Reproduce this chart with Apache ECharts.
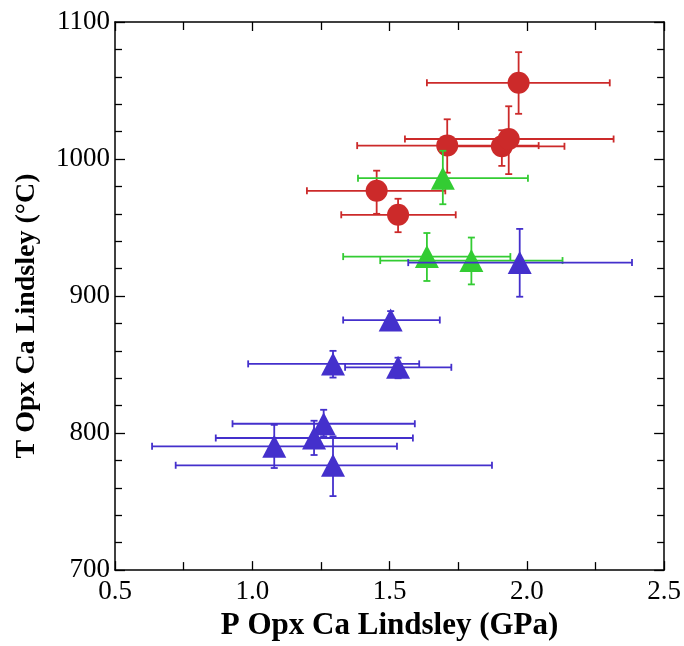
<!DOCTYPE html>
<html><head><meta charset="utf-8">
<script src="https://cdn.jsdelivr.net/npm/echarts@6/dist/echarts.min.js"></script>
<style>html,body{margin:0;padding:0;background:#fff}#c{width:684px;height:646px}</style>
</head><body><div id="c"></div>
<script>
// Red circles
const redP   = [1.970, 1.710, 1.909, 1.934, 1.453, 1.531];
const redT   = [1055.6, 1009.8, 1009.3, 1014.6, 976.8, 959.3];
const redPlo = [1.636, 1.382, 1.681, 1.556, 1.199, 1.324];
const redPhi = [2.302, 2.043, 2.137, 2.316, 1.703, 1.741];
const redTlo = [1033, 990, 995, 989, 960, 946.6];
const redThi = [1078, 1029, 1021, 1038.5, 991.5, 971];
// Green triangles
const greenP   = [1.694, 1.636, 1.798];
const greenT   = [986, 928.8, 925.9];
const greenPlo = [1.385, 1.331, 1.466];
const greenPhi = [2.004, 1.940, 2.130];
const greenTlo = [967, 911, 908.5];
const greenThi = [1006, 946, 942.7];
// Blue triangles
const blueP   = [1.974, 1.504, 1.294, 1.531, 1.260, 1.225, 1.080, 1.294];
const blueT   = [924.4, 882.5, 850.5, 848, 806.8, 796.4, 790.3, 776.5];
const bluePlo = [1.568, 1.331, 0.985, 1.338, 0.928, 0.867, 0.635, 0.721];
const bluePhi = [2.383, 1.683, 1.608, 1.725, 1.592, 1.585, 1.527, 1.873];
const blueTlo = [899.5, 877, 840.5, 840, 797.6, 784, 774.5, 754];
const blueThi = [949, 889, 860, 855, 817, 809, 806, 797.6];

const xTicks = ['0.5','1.0','1.5','2.0','2.5'];
const yTicks = ['700','800','900','1000','1100'];
const xTitle = 'P Opx Ca Lindsley (GPa)';
const yTitle = 'T Opx Ca Lindsley (°C)';

const RED = '#cc2a2a', GREEN = '#33cc33', BLUE = '#4430cc';
const SERIF = '"Liberation Serif", "DejaVu Serif", serif';

function errData(P,T,Plo,Phi,Tlo,Thi){
  return P.map((p,i)=>[p,T[i],Plo[i],Phi[i],Tlo[i],Thi[i]]);
}
function errSeries(data,color,z){
  return {
    type:'custom', data:data, z:z,
    renderItem:function(params,api){
      const p=api.value(0), t=api.value(1);
      const a=api.coord([api.value(2),t]), b=api.coord([api.value(3),t]);
      const c=api.coord([p,api.value(4)]), d=api.coord([p,api.value(5)]);
      const cap=3.5, st={stroke:color,lineWidth:1.8};
      const L=(x1,y1,x2,y2)=>({type:'line',shape:{x1,y1,x2,y2},style:st});
      return {type:'group',children:[
        L(a[0],a[1],b[0],b[1]),
        L(a[0],a[1]-cap,a[0],a[1]+cap),
        L(b[0],b[1]-cap,b[0],b[1]+cap),
        L(c[0],c[1],d[0],d[1]),
        L(c[0]-cap,c[1],c[0]+cap,c[1]),
        L(d[0]-cap,d[1],d[0]+cap,d[1])
      ]};
    }
  };
}
function ptSeries(P,T,color,symbol,size,z){
  return {type:'scatter',data:P.map((p,i)=>[p,T[i]]),symbol:symbol,symbolSize:size,
    itemStyle:{color:color,opacity:1},z:z,silent:true};
}

const chart = echarts.init(document.getElementById('c'),null,{renderer:'canvas'});
const axisLineStyle={show:true,lineStyle:{color:'#000',width:1.5}};
chart.setOption({
  animation:false,
  grid:{left:115,top:22,right:18,bottom:75},
  graphic:[{
    type:'text', x:27, y:316, rotation:Math.PI/2,
    style:{text:yTitle, fill:'#000', font:'bold 28px "Liberation Serif", serif',
      textAlign:'center', textVerticalAlign:'middle'}
  }],
  xAxis:[{
    type:'value',min:0.5,max:2.5,interval:0.5,position:'bottom',
    axisLine:axisLineStyle,
    axisTick:{show:true,inside:true,length:9,lineStyle:{color:'#000',width:1.3}},
    minorTick:{show:true,splitNumber:2,length:8,lineStyle:{color:'#000',width:1.3}},
    splitLine:{show:false},
    axisLabel:{color:'#000',fontFamily:SERIF,fontSize:27,margin:8,
      formatter:v=>xTicks[Math.round((v-0.5)/0.5)]},
    name:xTitle,nameLocation:'middle',nameGap:39,
    nameTextStyle:{color:'#000',fontFamily:SERIF,fontSize:31,fontWeight:'bold'}
  },{
    type:'value',min:0.5,max:2.5,interval:0.5,position:'top',
    axisLine:axisLineStyle,
    axisTick:{show:true,inside:true,length:9,lineStyle:{color:'#000',width:1.3}},
    minorTick:{show:true,splitNumber:2,length:8,lineStyle:{color:'#000',width:1.3}},
    splitLine:{show:false},axisLabel:{show:false}
  }],
  yAxis:[{
    type:'value',min:700,max:1100,interval:100,position:'left',
    axisLine:axisLineStyle,
    axisTick:{show:true,inside:true,length:10,lineStyle:{color:'#000',width:1.3}},
    minorTick:{show:true,splitNumber:5,length:7,lineStyle:{color:'#000',width:1.3}},
    splitLine:{show:false},
    axisLabel:{color:'#000',fontFamily:SERIF,fontSize:27,margin:5,
      formatter:v=>yTicks[Math.round((v-700)/100)]}
  },{
    type:'value',min:700,max:1100,interval:100,position:'right',
    axisLine:axisLineStyle,
    axisTick:{show:true,inside:true,length:10,lineStyle:{color:'#000',width:1.3}},
    minorTick:{show:true,splitNumber:5,length:7,lineStyle:{color:'#000',width:1.3}},
    splitLine:{show:false},axisLabel:{show:false}
  }],
  series:[
    errSeries(errData(redP,redT,redPlo,redPhi,redTlo,redThi),RED,2),
    ptSeries(redP,redT,RED,'circle',22,3),
    errSeries(errData(greenP,greenT,greenPlo,greenPhi,greenTlo,greenThi),GREEN,4),
    ptSeries(greenP,greenT,GREEN,'triangle',[24,23],5),
    errSeries(errData(blueP,blueT,bluePlo,bluePhi,blueTlo,blueThi),BLUE,6),
    ptSeries(blueP,blueT,BLUE,'triangle',[24,23],7)
  ]
});
</script></body></html>
